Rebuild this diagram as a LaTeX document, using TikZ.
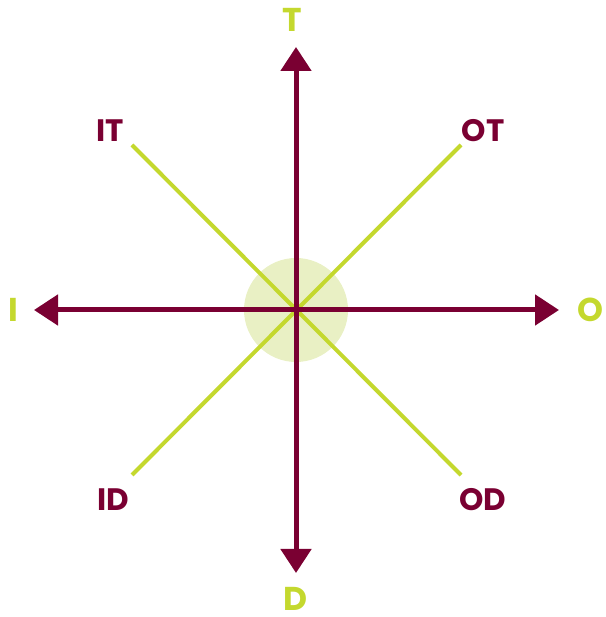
\documentclass[tikz,border=0pt]{standalone}
\usepackage{fontspec}
\setmainfont{Poppins}
\usepackage{tikz}
\usetikzlibrary{arrows.meta}
\definecolor{Wine}{RGB}{122, 0, 50}
\definecolor{Lime}{RGB}{196, 216, 46}
\definecolor{LimeLight}{RGB}{233, 240, 196}

\begin{document}
\begin{tikzpicture}[x=1pt, y=1pt,
    axis/.style={-{Triangle[length=24pt, width=30pt]}, line width=5pt, Wine},
    diag/.style={line width=4pt, Lime},
    pole/.style={font=\fontsize{33}{36}\selectfont\bfseries, text=Lime, inner sep=0pt},
    mix/.style={font=\fontsize{31}{34}\selectfont\bfseries, text=Wine, inner sep=0pt},
]
\useasboundingbox (0,0) rectangle (605,617);

\coordinate (c) at (296,307);
\fill[LimeLight] (c) circle (52);

% diagonal ends
\coordinate (endIT) at (132,472);
\coordinate (endOT) at (461,472);
\coordinate (endID) at (132,142);
\coordinate (endOD) at (461,142);
\draw[diag] (endIT) -- (endOD);
\draw[diag] (endID) -- (endOT);

% arrow tips
\coordinate (tipT) at (296,570);
\coordinate (tipD) at (296,44);
\coordinate (tipI) at (34,307);
\coordinate (tipO) at (559,307);
\draw[axis] (c) -- (tipT);
\draw[axis] (c) -- (tipD);
\draw[axis] (c) -- (tipI);
\draw[axis] (c) -- (tipO);

\node[pole] (T) at (292,597) {T};
\node[pole] (D) at (295,18) {D};
\node[pole] (I) at (13,307) {I};
\node[pole] (O) at (590,307) {O};

\node[mix] (IT) at (110,486) {IT};
\node[mix] (OT) at (483,486) {OT};
\node[mix] (ID) at (113,117) {ID};
\node[mix] (OD) at (483,117) {OD};
\end{tikzpicture}
\end{document}
